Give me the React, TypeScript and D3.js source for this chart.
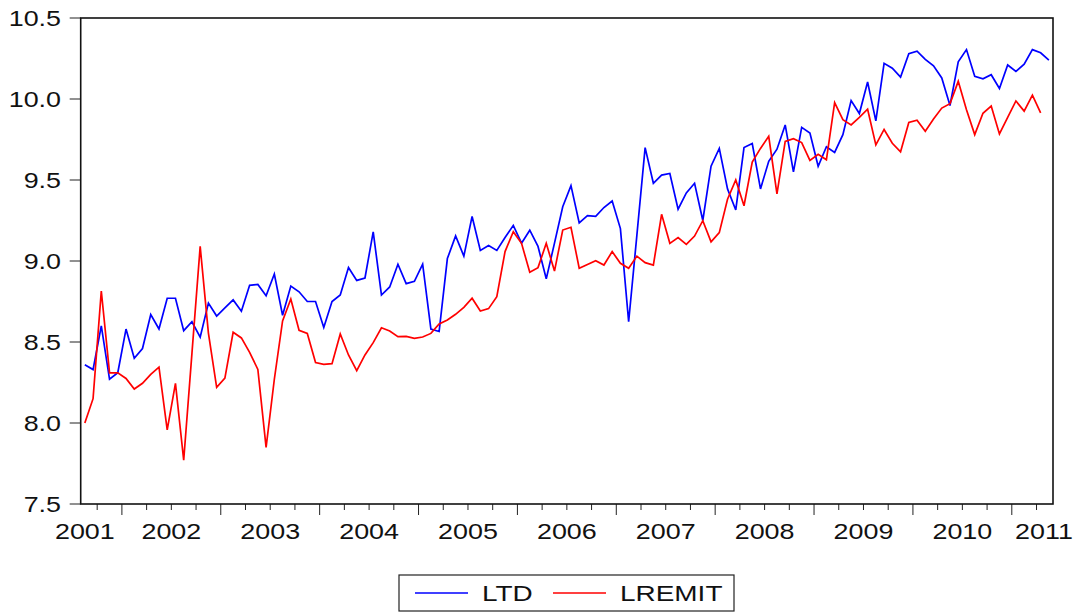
import React from 'react';
import * as d3 from 'd3';

// monthly observations, first one is August 2001
const startYear = 2001;
const startMonth = 7; // 0-based, August

const ltd = [
  8.36, 8.33, 8.60, 8.27, 8.31,
  8.58, 8.40, 8.46, 8.67, 8.58, 8.77, 8.77, 8.57, 8.625, 8.53, 8.74, 8.66,
  8.71, 8.76, 8.69, 8.85, 8.855, 8.785, 8.92, 8.665, 8.845, 8.81, 8.75, 8.75,
  8.59, 8.75, 8.79, 8.96, 8.88, 8.895, 9.18, 8.79, 8.84, 8.98, 8.86, 8.875,
  8.98, 8.58, 8.565, 9.015, 9.155, 9.03, 9.275, 9.065, 9.095, 9.065, 9.145, 9.22,
  9.11, 9.19, 9.09, 8.89, 9.11, 9.335, 9.465, 9.235, 9.28, 9.275, 9.33, 9.37,
  9.20, 8.625, 9.16, 9.70, 9.48, 9.53, 9.54, 9.32, 9.42, 9.48, 9.25, 9.585,
  9.695, 9.445, 9.315, 9.70, 9.725, 9.445, 9.615, 9.69, 9.84, 9.55, 9.825, 9.79,
  9.585, 9.705, 9.67, 9.78, 9.99, 9.91, 10.105, 9.865, 10.22, 10.19, 10.135, 10.28,
  10.295, 10.245, 10.205, 10.13, 9.96, 10.23, 10.305, 10.14, 10.125, 10.15, 10.065, 10.21,
  10.17, 10.215, 10.305, 10.285, 10.24,
];

const lremit = [
  8.00, 8.15, 8.815, 8.31, 8.31,
  8.275, 8.21, 8.245, 8.30, 8.345, 7.957, 8.245, 7.77, 8.43, 9.09, 8.555, 8.22,
  8.277, 8.56, 8.525, 8.436, 8.331, 7.85, 8.27, 8.63, 8.765, 8.572, 8.553, 8.373,
  8.362, 8.366, 8.55, 8.42, 8.323, 8.42, 8.496, 8.588, 8.568, 8.533, 8.535, 8.523,
  8.531, 8.553, 8.611, 8.636, 8.671, 8.714, 8.77, 8.691, 8.706, 8.78, 9.058, 9.181,
  9.109, 8.93, 8.959, 9.109, 8.938, 9.191, 9.208, 8.955, 8.979, 9.002, 8.975, 9.058,
  8.986, 8.955, 9.03, 8.99, 8.975, 9.288, 9.109, 9.144, 9.103, 9.154, 9.249, 9.118,
  9.175, 9.381, 9.50, 9.341, 9.61, 9.695, 9.77, 9.415, 9.738, 9.755, 9.731, 9.621,
  9.659, 9.625, 9.978, 9.872, 9.84, 9.886, 9.937, 9.717, 9.812, 9.727, 9.674, 9.855,
  9.869, 9.801, 9.876, 9.944, 9.971, 10.109, 9.933, 9.78, 9.912, 9.956, 9.784, 9.886,
  9.988, 9.925, 10.024, 9.914,
];

const yTicks = [7.5, 8.0, 8.5, 9.0, 9.5, 10.0, 10.5];
const yearLabels = ['2001', '2002', '2003', '2004', '2005', '2006', '2007', '2008', '2009', '2010', '2011'];
// where each year label sits, in months from the first observation
const yearLabelAt = [0.5, 11, 23, 35, 47, 59, 71, 83, 95, 107, 116.9];

const series = [
  { name: 'LTD', values: ltd, color: '#0000ff' },
  { name: 'LREMIT', values: lremit, color: '#ff0000' },
];

const FONT = '"Liberation Sans", Arial, sans-serif';
const STRETCH = 1.25;

export default function App() {
  const width = 1081;
  const height = 612;
  const plot = { left: 80.7, right: 1053, top: 18, bottom: 504 };
  const nMonths = ltd.length;

  const x = d3.scaleLinear().domain([0, nMonths]).range([plot.left, plot.right]);
  const y = d3.scaleLinear().domain([7.5, 10.5]).range([plot.bottom, plot.top]);

  const line = d3.line<number>()
    .x((d, i) => x(i + 0.5))
    .y(d => y(d));

  // quarter boundaries, long mark at the start of each year
  const xTicks = d3.range(1, nMonths)
    .map(k => ({ k, abs: startYear * 12 + startMonth + k }))
    .filter(t => t.abs % 3 === 0)
    .map(t => ({ pos: x(t.k), major: t.abs % 12 === 0 }));

  const legend = { x: 399, y: 575, w: 335, h: 36 };
  const legendItems = [
    { lineX: 415, textX: 482 },
    { lineX: 553, textX: 620 },
  ];

  return (
    <svg width={width} height={height} style={{ position: 'absolute', left: 0, top: 0, background: '#fff' }}
      fontFamily={FONT}>
      {/* y axis ticks and labels */}
      {yTicks.map(t => (
        <g key={t}>
          <line x1={plot.left - 11} x2={plot.left} y1={y(t)} y2={y(t)} stroke="#222" strokeWidth={1} />
          <text transform={`translate(61,${y(t) + 7.8}) scale(${STRETCH},1)`} textAnchor="end" fontSize={21.5} fill="#111">
            {d3.format('.1f')(t)}
          </text>
        </g>
      ))}

      {/* x axis ticks */}
      {xTicks.map((t, i) => (
        <line key={i} x1={t.pos} x2={t.pos} y1={plot.bottom} y2={plot.bottom + (t.major ? 11 : 6)}
          stroke="#222" strokeWidth={1} />
      ))}
      {yearLabels.map((lab, i) => (
        <text key={lab} transform={`translate(${x(yearLabelAt[i])},538.5) scale(${STRETCH},1)`} textAnchor="middle"
          fontSize={21.5} fill="#111">
          {lab}
        </text>
      ))}

      {/* series */}
      {series.map(s => (
        <path key={s.name} d={line(s.values) || ''} fill="none" stroke={s.color} strokeWidth={1.7}
          strokeLinejoin="miter" />
      ))}

      {/* frame */}
      <rect x={plot.left} y={plot.top} width={plot.right - plot.left} height={plot.bottom - plot.top}
        fill="none" stroke="#111" strokeWidth={1.6} />

      {/* legend */}
      <rect x={legend.x} y={legend.y} width={legend.w} height={legend.h} fill="#fff" stroke="#222" strokeWidth={1.2} />
      {series.map((s, i) => (
        <g key={s.name}>
          <line x1={legendItems[i].lineX} x2={legendItems[i].lineX + 53} y1={593} y2={593} stroke={s.color} strokeWidth={1.6} />
          <text transform={`translate(${legendItems[i].textX},601) scale(1.3,1)`} fontSize={21.5} fill="#111">
            {s.name}
          </text>
        </g>
      ))}
    </svg>
  );
}
